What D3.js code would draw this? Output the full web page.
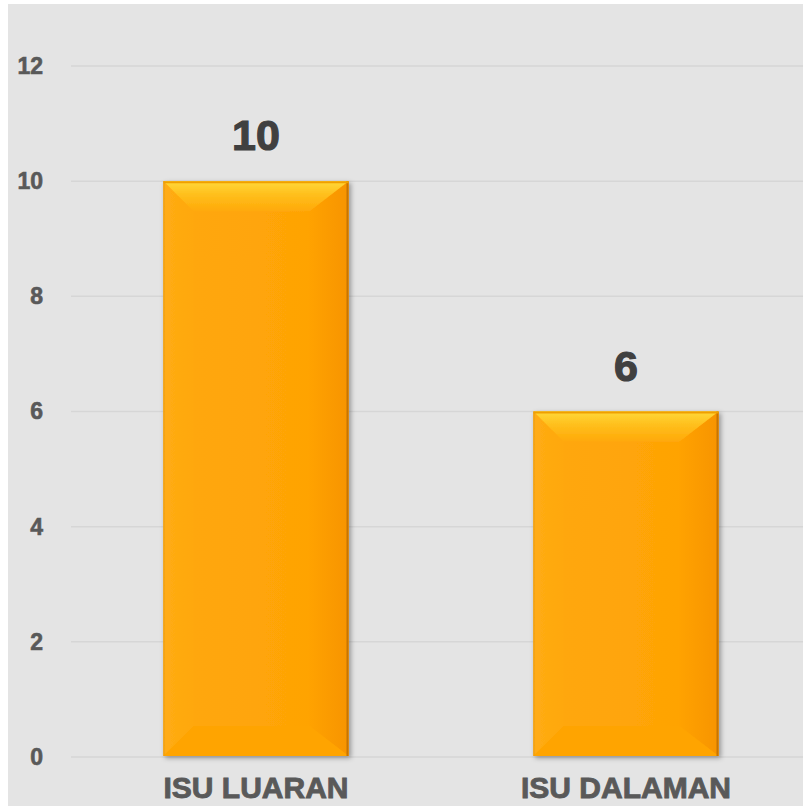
<!DOCTYPE html>
<html>
<head>
<meta charset="utf-8">
<script src="https://cdn.jsdelivr.net/npm/d3@7"></script>
<style>
  body { margin: 0; background: #fff; }
  svg { display: block; }
</style>
</head>
<body>
<div id="mainContainer"></div>
<script>
var categories = ["ISU LUARAN", "ISU DALAMAN"];
var values = [10, 6];
var yTicks = [0, 2, 4, 6, 8, 10, 12];

var W = 803, H = 806;
var margin = { top: 66, bottom: 49, left: 71, right: -8 };
var FONT = 'Liberation Sans, Arial, sans-serif';

var svg = d3.select('#mainContainer').append('svg')
    .attr('width', W)
    .attr('height', H);

var defs = svg.append('defs');

// bar gradients
var topGrad = defs.append('linearGradient').attr('id', 'gTop')
    .attr('x1', 0).attr('y1', 0).attr('x2', 0).attr('y2', 1);
topGrad.append('stop').attr('offset', '0%').attr('stop-color', '#ffd83a');
topGrad.append('stop').attr('offset', '45%').attr('stop-color', '#ffbf1c');
topGrad.append('stop').attr('offset', '100%').attr('stop-color', '#ffa909');

var rightGrad = defs.append('linearGradient').attr('id', 'gRight')
    .attr('x1', 0).attr('y1', 0).attr('x2', 1).attr('y2', 0);
rightGrad.append('stop').attr('offset', '0%').attr('stop-color', '#ffa204');
rightGrad.append('stop').attr('offset', '100%').attr('stop-color', '#f79400');

var leftGrad = defs.append('linearGradient').attr('id', 'gLeft')
    .attr('x1', 0).attr('y1', 0).attr('x2', 1).attr('y2', 0);
leftGrad.append('stop').attr('offset', '0%').attr('stop-color', '#ffac14');
leftGrad.append('stop').attr('offset', '100%').attr('stop-color', '#ffa80c');

var mainGrad = defs.append('linearGradient').attr('id', 'gMain')
    .attr('x1', 0).attr('y1', 0).attr('x2', 1).attr('y2', 0);
mainGrad.append('stop').attr('offset', '0%').attr('stop-color', '#ffa80c');
mainGrad.append('stop').attr('offset', '100%').attr('stop-color', '#ffa203');

var shadow = defs.append('filter').attr('id', 'shadow')
    .attr('x', '-10%').attr('y', '-10%').attr('width', '120%').attr('height', '120%');
shadow.append('feDropShadow')
    .attr('dx', 2).attr('dy', 2).attr('stdDeviation', 2.5)
    .attr('flood-color', '#000').attr('flood-opacity', 0.35);

// background panel
svg.append('rect')
    .attr('x', 8).attr('y', 4)
    .attr('width', W - 8).attr('height', H - 4)
    .attr('fill', '#e4e4e4');

var xscale = d3.scaleBand()
    .domain(categories)
    .range([margin.left, W - margin.right])
    .paddingInner(0.5)
    .paddingOuter(0.25);

var yscale = d3.scaleLinear()
    .domain([0, 12])
    .range([757, margin.top]);

// gridlines
svg.append('g')
    .selectAll('line')
    .data(yTicks)
    .enter().append('line')
    .attr('x1', margin.left)
    .attr('x2', W)
    .attr('y1', function(d) { return yscale(d); })
    .attr('y2', function(d) { return yscale(d); })
    .attr('stroke', '#d6d6d6')
    .attr('stroke-width', 1.5);

// y axis labels
var yAxis = svg.append('g')
    .attr('transform', 'translate(43,0)')
    .call(d3.axisLeft(yscale).tickValues(yTicks).tickSize(0).tickPadding(0));
yAxis.select('.domain').remove();
yAxis.selectAll('text')
    .attr('fill', '#595959')
    .attr('stroke', '#595959')
    .attr('stroke-width', 0.6)
    .attr('font-family', FONT)
    .attr('font-weight', 'bold')
    .attr('font-size', '23px');

// bars
var bev = 30;
var bars = svg.selectAll('.bar')
    .data(categories)
    .enter().append('g')
    .attr('class', 'bar')
    .attr('filter', 'url(#shadow)');

function pts(a) { return a.map(function(p) { return p.join(','); }).join(' '); }

bars.each(function(d, i) {
    var g = d3.select(this);
    var x0 = xscale(d), x1 = xscale(d) + xscale.bandwidth();
    var y0 = yscale(values[i]), y1 = yscale(0) - 1;
    var b = Math.min(bev, (y1 - y0) / 2);
    g.append('rect')
        .attr('x', x0).attr('y', y0)
        .attr('width', x1 - x0).attr('height', y1 - y0)
        .attr('fill', 'url(#gMain)');
    // left bevel
    g.append('polygon')
        .attr('points', pts([[x0, y0], [x0 + b, y0 + b], [x0 + b, y1 - b], [x0, y1]]))
        .attr('fill', 'url(#gLeft)');
    // right bevel
    g.append('polygon')
        .attr('points', pts([[x1, y0], [x1 - b * 1.3, y0 + b], [x1 - b * 1.3, y1 - b], [x1, y1]]))
        .attr('fill', 'url(#gRight)');
    // bottom bevel
    g.append('polygon')
        .attr('points', pts([[x0, y1], [x0 + b, y1 - b], [x1 - b * 1.3, y1 - b], [x1, y1]]))
        .attr('fill', '#ffa406');
    // top bevel
    g.append('polygon')
        .attr('points', pts([[x0, y0], [x1, y0], [x1 - b * 1.3, y0 + b], [x0 + b, y0 + b]]))
        .attr('fill', 'url(#gTop)');
    // edges
    g.append('line')
        .attr('x1', x1 - 1).attr('x2', x1 - 1).attr('y1', y0).attr('y2', y1)
        .attr('stroke', '#c87400').attr('stroke-width', 2);
    g.append('line')
        .attr('x1', x0).attr('x2', x1).attr('y1', y0 + 1).attr('y2', y0 + 1)
        .attr('stroke', '#f0a000').attr('stroke-width', 2);
    g.append('line')
        .attr('x1', x0 + 0.5).attr('x2', x0 + 0.5).attr('y1', y0).attr('y2', y1)
        .attr('stroke', '#e89a10').attr('stroke-width', 1);
});

// value labels
svg.selectAll('.val')
    .data(categories)
    .enter().append('text')
    .attr('class', 'val')
    .attr('x', function(d) { return xscale(d) + xscale.bandwidth() / 2; })
    .attr('y', function(d, i) { return yscale(values[i]) - 31; })
    .attr('text-anchor', 'middle')
    .attr('fill', '#404040')
    .attr('stroke', '#404040')
    .attr('stroke-width', 1.2)
    .attr('font-family', FONT)
    .attr('font-weight', 'bold')
    .attr('font-size', '43px')
    .text(function(d, i) { return values[i]; });

// category labels
svg.selectAll('.cat')
    .data(categories)
    .enter().append('text')
    .attr('class', 'cat')
    .attr('x', function(d) { return xscale(d) + xscale.bandwidth() / 2; })
    .attr('y', 798)
    .attr('text-anchor', 'middle')
    .attr('fill', '#595959')
    .attr('stroke', '#595959')
    .attr('stroke-width', 0.9)
    .attr('font-family', FONT)
    .attr('font-weight', 'bold')
    .attr('font-size', '30px')
    .text(function(d) { return d; });
</script>
</body>
</html>
